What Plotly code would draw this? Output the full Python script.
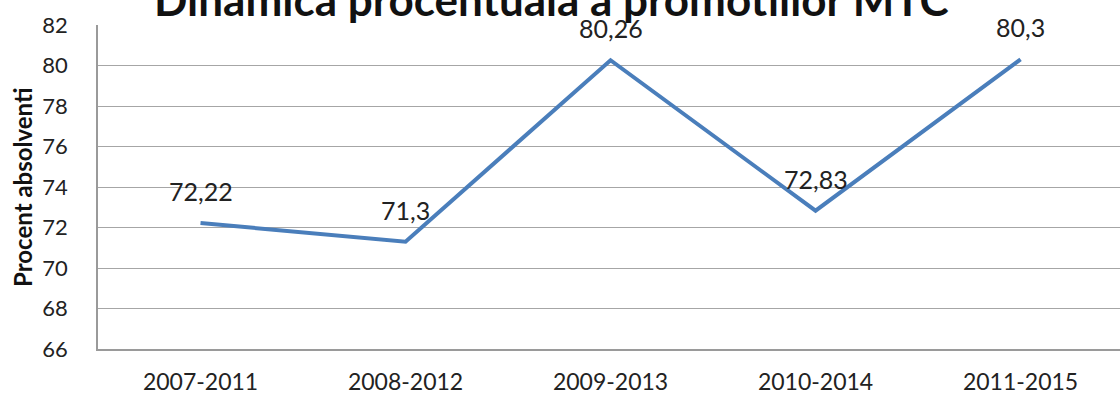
import plotly.graph_objs as go

# data
periods = ['2007-2011', '2008-2012', '2009-2013', '2010-2014', '2011-2015']
percent = [72.22, 71.3, 80.26, 72.83, 80.3]
labels = ['72,22', '71,3', '80,26', '72,83', '80,3']
y_ticks = [66, 68, 70, 72, 74, 76, 78, 80, 82]

FONT = 'Lato, Open Sans, sans-serif'

line = go.Scatter(
    x=periods,
    y=percent,
    mode='lines',
    line=dict(color='#4A7EBB', width=4),
    hoverinfo='skip',
)

layout = go.Layout(
    width=1120,
    height=396,
    showlegend=False,
    paper_bgcolor='white',
    plot_bgcolor='white',
    font=dict(family=FONT, color='#222222'),
    margin=dict(l=98, r=0, t=25, b=47),
    xaxis=dict(
        range=[-0.5, 4.485],
        automargin=False,
        showgrid=False,
        showline=True,
        linecolor='#9a9a9a',
        linewidth=1.5,
        ticks='',
        ticklabelstandoff=12,
        tickfont=dict(size=23),
    ),
    yaxis=dict(
        range=[66, 82],
        tickvals=y_ticks,
        automargin=False,
        showgrid=True,
        gridcolor='#a6a6a6',
        gridwidth=1,
        showline=True,
        linecolor='#9a9a9a',
        linewidth=1.5,
        zeroline=False,
        ticks='',
        ticklabelstandoff=24,
        tickfont=dict(size=22),
    ),
)

fig = go.Figure(data=[line], layout=layout)

# data labels above the points
for p, v, t in zip(periods, percent, labels):
    fig.add_annotation(
        x=p, y=v, text=t, showarrow=False,
        yshift=32, font=dict(size=25, color='#222222'),
    )

# y axis title
fig.add_annotation(
    xref='paper', yref='paper', x=-0.0744, y=0.5,
    text='<b>Procent absolventi</b>', textangle=-90,
    showarrow=False, xanchor='center', yanchor='middle',
    font=dict(size=24, color='#111111'),
)

# title, cut by the top edge like the original
fig.add_annotation(
    xref='paper', yref='paper', x=0.444, y=1.08,
    text='<b>Dinamica procentuala a promotiilor MTC</b>',
    showarrow=False, yanchor='middle',
    font=dict(size=44, color='#111111'),
)

fig.write_html(
    'out.html',
    config={'displayModeBar': False},
    post_script="document.body.style.margin='0';",
)
